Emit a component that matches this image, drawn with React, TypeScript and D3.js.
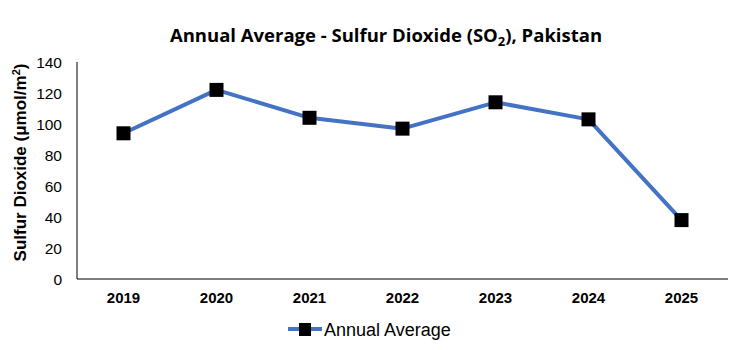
import React from "react";
import * as d3 from "d3";

const years = ["2019", "2020", "2021", "2022", "2023", "2024", "2025"];
const values = [94, 122, 104, 97, 114, 103, 38];
const yTicks = [0, 20, 40, 60, 80, 100, 120, 140];

export default function App() {
  const W = 741, H = 350;
  const left = 77, right = 728, top = 62, bottom = 279;
  const x = d3.scaleBand().domain(years).range([left, right]);
  const y = d3.scaleLinear().domain([0, 140]).range([bottom, top]);
  const line = d3.line<number>()
    .x((_, i) => x(years[i])! + x.bandwidth() / 2)
    .y((d) => y(d));
  return (
    <svg width={W} height={H} style={{ position: "absolute", left: 0, top: 0, background: "#fff" }}>
      <text x={386} y={42} textAnchor="middle" fontFamily="Open Sans, sans-serif" fontWeight="bold" fontSize={18.5}>
        Annual Average - Sulfur Dioxide (SO<tspan fontSize={13} dy={4}>2</tspan><tspan dy={-4}>), Pakistan</tspan>
      </text>
      <line x1={left} x2={left} y1={top} y2={bottom} stroke="#000" strokeWidth={1} />
      <line x1={left} x2={right} y1={bottom} y2={bottom} stroke="#000" strokeWidth={1} />
      {yTicks.map((t) => (
        <text key={t} x={left - 15} y={y(t) + 5.5} textAnchor="end" fontFamily="Liberation Sans, Arial, sans-serif" fontSize={15.5} fill="#000">
          {t}
        </text>
      ))}
      {years.map((yr) => (
        <text key={yr} x={x(yr)! + x.bandwidth() / 2} y={303} textAnchor="middle" fontFamily="Liberation Sans, Arial, sans-serif" fontWeight="bold" fontSize={15} fill="#000">
          {yr}
        </text>
      ))}
      <text transform={`translate(26,${(top + bottom) / 2 - 8}) rotate(-90)`} textAnchor="middle" fontFamily="Liberation Sans, Arial, sans-serif" fontWeight="bold" fontSize={17} fill="#000">
        Sulfur Dioxide (μmol/m<tspan fontSize={11} dy={-6}>2</tspan><tspan dy={6}>)</tspan>
      </text>
      <path d={line(values) ?? ""} fill="none" stroke="#4472C4" strokeWidth={4} strokeLinejoin="round" />
      {values.map((v, i) => (
        <rect key={i} x={x(years[i])! + x.bandwidth() / 2 - 7} y={y(v) - 7} width={14} height={14} fill="#000" />
      ))}
      <line x1={288} x2={322} y1={329} y2={329} stroke="#4472C4" strokeWidth={4} />
      <rect x={299} y={323} width={12} height={13} fill="#000" />
      <text x={324} y={336} fontFamily="Liberation Sans, Arial, sans-serif" fontSize={18} fill="#000">Annual Average</text>
    </svg>
  );
}
